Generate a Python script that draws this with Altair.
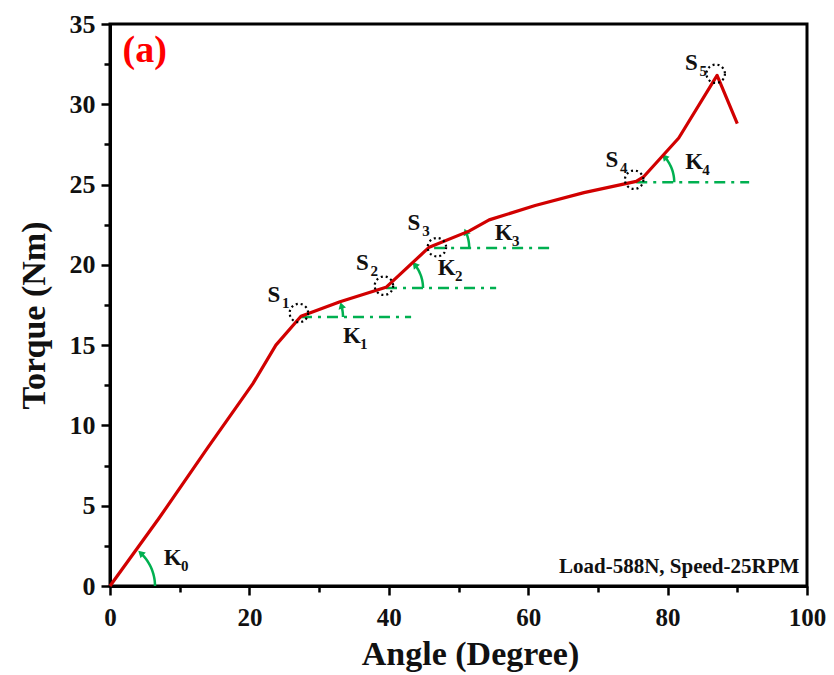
import altair as alt
import pandas as pd
import numpy as np

# ---- data ----
angle = [0, 7, 14, 20.5, 23.8, 27.4, 33, 39.6, 45.8, 51.5, 54.4, 61, 68, 75.5, 76.6, 81.6, 87.1, 90.0]
torque = [0, 4.2, 8.6, 12.6, 15.0, 16.8, 17.7, 18.6, 21.1, 22.1, 22.8, 23.7, 24.5, 25.2, 25.5, 27.9, 31.8, 28.8]

s_letters = ["S", "S", "S", "S", "S"]
s_subs = ["1", "2", "3", "4", "5"]
s_circle_x = [27.1, 39.3, 46.9, 75.2, 86.9]
s_circle_y = [17.0, 18.7, 21.1, 25.3, 31.9]
s_text_x = [23.5, 36.2, 43.6, 72.0, 83.4]
s_text_y = [18.1, 20.1, 22.6, 26.5, 32.6]

k_letters = ["K", "K", "K", "K", "K"]
k_subs = ["0", "1", "2", "3", "4"]
k_text_x = [9.0, 34.7, 48.3, 56.5, 83.8]
k_text_y = [1.74, 15.6, 19.8, 22.0, 26.4]

# horizontal dash-dot reference lines (K1..K4)
kl_x1 = [27.4, 39.6, 46.5, 75.5]
kl_x2 = [43.2, 55.4, 63.1, 91.7]
kl_y = [16.75, 18.56, 21.05, 25.15]

# angle arcs: vertex, radius (px), end angle (deg)
arc_cx = [0, 27.4, 39.6, 45.8, 75.5]
arc_cy = [0, 16.75, 18.56, 21.05, 25.15]
arc_r = [45, 42, 37, 40, 38]
arc_end = [50, 19, 42, 27, 45]

W, H = 697, 562
sx = W / 100.0
sy = H / 35.0

RED = "#d10000"
GREEN = "#00b050"
FONT = "Liberation Serif"
TXT = "#111111"

curve = pd.DataFrame({"angle": angle, "torque": torque, "o": range(len(angle))})
sdf = pd.DataFrame({"cx": s_circle_x, "cy": s_circle_y})
labels = pd.DataFrame({"tx": s_text_x + k_text_x, "ty": s_text_y + k_text_y,
                       "lab": s_letters + k_letters, "sub": s_subs + k_subs})
kl = pd.DataFrame({"x1": kl_x1, "x2": kl_x2, "y": kl_y})

arc_rows, head_rows = [], []
for i in range(len(arc_cx)):
    ts = np.linspace(0, np.radians(arc_end[i] - 4), 16)
    for j, t in enumerate(ts):
        arc_rows.append({"g": i, "o": j,
                         "x": arc_cx[i] + arc_r[i] * np.cos(t) / sx,
                         "y": arc_cy[i] + arc_r[i] * np.sin(t) / sy})
    te = np.radians(arc_end[i] - 3)
    head_rows.append({"x": arc_cx[i] + arc_r[i] * np.cos(te) / sx,
                      "y": arc_cy[i] + arc_r[i] * np.sin(te) / sy,
                      "a": (360 - (arc_end[i] - 3) + 360) % 360})
arcs = pd.DataFrame(arc_rows)
heads = pd.DataFrame(head_rows)

xs = alt.Scale(domain=[0, 100], nice=False)
ys = alt.Scale(domain=[0, 35], nice=False)

x_axis = alt.Axis(values=list(range(0, 101, 10)),
                  labelExpr="datum.value % 20 === 0 ? datum.label : ''",
                  tickSize={"condition": {"test": "datum.value % 20 === 0", "value": 9}, "value": 6},
                  title="Angle (Degree)", titleX=360, titleY=78, titleBaseline="alphabetic",
                  titleAlign="center", grid=False, labelPadding=10, labelFlush=False,
                  labelFontSize=25)
y_axis = alt.Axis(values=[v * 2.5 for v in range(0, 15)],
                  labelExpr="datum.value % 5 === 0 ? datum.label : ''",
                  tickSize={"condition": {"test": "datum.value % 5 === 0", "value": 9}, "value": 6},
                  title="Torque (Nm)", titleX=-66, titleY=291, titleBaseline="alphabetic",
                  titleAlign="center", grid=False, labelPadding=6, labelFlush=False)

line = alt.Chart(curve).mark_line(color=RED, strokeWidth=3.2, strokeJoin="round").encode(
    x=alt.X("angle:Q", scale=xs, axis=x_axis),
    y=alt.Y("torque:Q", scale=ys, axis=y_axis),
    order="o:Q")

klines = alt.Chart(kl).mark_rule(color=GREEN, strokeWidth=2.5, strokeDash=[11, 6, 3, 6]).encode(
    x="x1:Q", x2="x2:Q", y="y:Q")

arcl = alt.Chart(arcs).mark_line(color=GREEN, strokeWidth=2.5).encode(
    x="x:Q", y="y:Q", detail="g:N", order="o:Q")

arrowheads = alt.Chart(heads).mark_point(shape="triangle-up", filled=True, color=GREEN,
                                         size=60, opacity=1).encode(
    x="x:Q", y="y:Q", angle=alt.Angle("a:Q", scale=None))

circles = alt.Chart(sdf).mark_point(shape="circle", size=340, color="black", strokeWidth=2.2,
                                    strokeDash=[2, 3], filled=False, opacity=1).encode(
    x="cx:Q", y="cy:Q")

letters = alt.Chart(labels).mark_text(font=FONT, fontWeight="bold", fontSize=23, color=TXT).encode(
    x="tx:Q", y="ty:Q", text="lab:N")
subs = alt.Chart(labels).mark_text(font=FONT, fontWeight="bold", fontSize=15, color=TXT,
                                   dx=12, dy=8).encode(
    x="tx:Q", y="ty:Q", text="sub:N")

note = alt.Chart(pd.DataFrame({"x": [98.9], "y": [1.2], "t": ["Load-588N, Speed-25RPM"]})).mark_text(
    font=FONT, fontWeight="bold", fontSize=21, align="right", color=TXT).encode(
    x="x:Q", y="y:Q", text="t:N")

panel = alt.Chart(pd.DataFrame({"x": [1.8], "y": [33.3], "t": ["(a)"]})).mark_text(
    font=FONT, fontWeight="bold", fontSize=38, align="left", color="#ff0000").encode(
    x="x:Q", y="y:Q", text="t:N")

chart = alt.layer(klines, arcl, arrowheads, line, circles, letters, subs, note, panel).properties(
    width=W, height=H,
    autosize=alt.AutoSizeParams(type="none"),
    padding={"left": 102, "top": 16, "right": 19, "bottom": 88},
).configure_view(stroke="black", strokeWidth=3).configure_axis(
    domainColor="black", domainWidth=3, tickColor="black", tickWidth=2.5,
    labelFont=FONT, labelFontWeight="bold", labelFontSize=26, labelColor=TXT,
    titleFont=FONT, titleFontWeight="bold", titleFontSize=34, titleColor=TXT,
)

chart.save("out.html", embed_options={"renderer": "svg", "actions": False})
